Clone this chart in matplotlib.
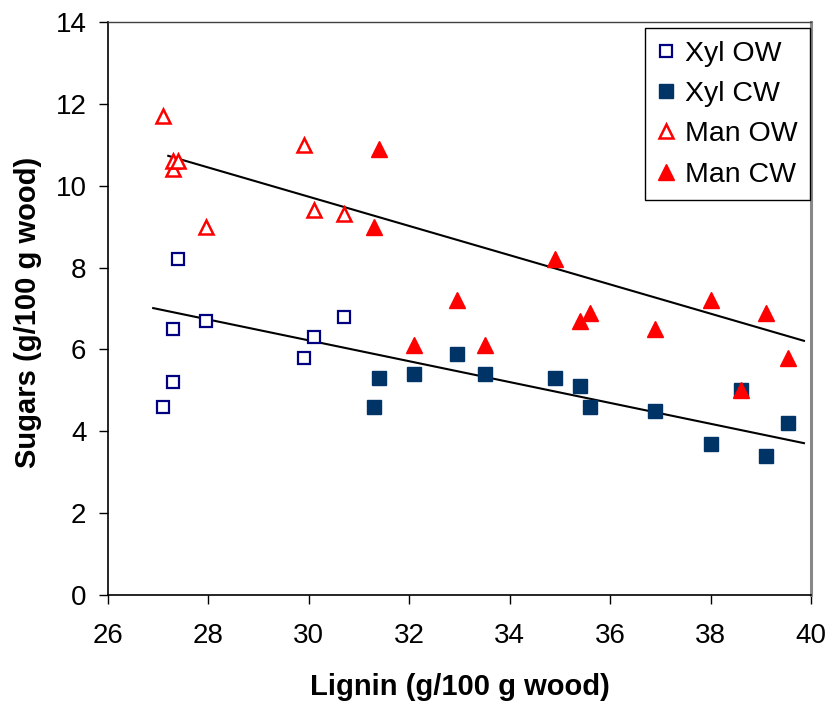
import numpy as np
import matplotlib
matplotlib.use("Agg")
import matplotlib.pyplot as plt

plt.rcParams['font.family'] = ['Liberation Sans', 'DejaVu Sans']

# Lignin content (g/100 g wood) and sugar yields (g/100 g wood)
xyl_ow_x = [27.1, 27.3, 27.3, 27.4, 27.95, 29.9, 30.1, 30.7]
xyl_ow_y = [4.6, 5.2, 6.5, 8.2, 6.7, 5.8, 6.3, 6.8]

xyl_cw_x = [31.3, 31.4, 32.1, 32.95, 33.5, 34.9, 35.4, 35.6, 36.9, 38.0, 38.6, 39.1, 39.55]
xyl_cw_y = [4.6, 5.3, 5.4, 5.9, 5.4, 5.3, 5.1, 4.6, 4.5, 3.7, 5.0, 3.4, 4.2]

man_ow_x = [27.1, 27.3, 27.3, 27.4, 27.95, 29.9, 30.1, 30.7]
man_ow_y = [11.7, 10.4, 10.6, 10.6, 9.0, 11.0, 9.4, 9.3]

man_cw_x = [31.3, 31.4, 32.1, 32.95, 33.5, 34.9, 35.4, 35.6, 36.9, 38.0, 38.6, 39.1, 39.55]
man_cw_y = [9.0, 10.9, 6.1, 7.2, 6.1, 8.2, 6.7, 6.9, 6.5, 7.2, 5.0, 6.9, 5.8]

# Linear trend lines (end points)
xyl_trend_x = [26.9, 39.86]
xyl_trend_y = [7.01, 3.71]
man_trend_x = [27.2, 39.86]
man_trend_y = [10.73, 6.21]

x_ticks = [26, 28, 30, 32, 34, 36, 38, 40]
y_ticks = [0, 2, 4, 6, 8, 10, 12, 14]

W, H = 832, 703
fig = plt.figure(figsize=(W / 100, H / 100), dpi=100)
ax = fig.add_axes([108 / W, 1 - 595 / H, (811 - 108) / W, (595 - 22) / H])

ax.plot(xyl_ow_x, xyl_ow_y, linestyle='none', marker='s', markersize=9,
        markerfacecolor='white', markeredgecolor='#000080', markeredgewidth=1.6,
        label='Xyl OW', zorder=3)
ax.plot(xyl_cw_x, xyl_cw_y, linestyle='none', marker='s', markersize=9.5,
        markerfacecolor='#003366', markeredgecolor='#003366', markeredgewidth=1.0,
        label='Xyl CW', zorder=3)
ax.plot(man_ow_x, man_ow_y, linestyle='none', marker='^', markersize=10.5,
        markerfacecolor='white', markeredgecolor='#FF0000', markeredgewidth=1.8,
        label='Man OW', zorder=3)
ax.plot(man_cw_x, man_cw_y, linestyle='none', marker='^', markersize=11.5,
        markerfacecolor='#FF0000', markeredgecolor='#FF0000', markeredgewidth=1.0,
        label='Man CW', zorder=3)

ax.plot(xyl_trend_x, xyl_trend_y, color='black', linewidth=1.5, zorder=2)
ax.plot(man_trend_x, man_trend_y, color='black', linewidth=1.5, zorder=2)

ax.set_xlim(26, 40)
ax.set_ylim(0, 14)
ax.set_xticks(x_ticks)
ax.set_yticks(y_ticks)
ax.tick_params(axis='both', direction='out', length=6.5, width=1.0, labelsize=20)
ax.tick_params(axis='y', pad=9)
ax.tick_params(axis='x', pad=14)

for side in ['left', 'bottom']:
    ax.spines[side].set_color('black')
    ax.spines[side].set_linewidth(1.2)
ax.spines['top'].set_color('#404040')
ax.spines['top'].set_linewidth(1.0)
ax.spines['right'].set_color('#888888')
ax.spines['right'].set_linewidth(2.2)

fig.text(460 / W, 1 - 695 / H, 'Lignin (g/100 g wood)', fontsize=21,
         fontweight='bold', ha='center', va='baseline')
fig.text(28 / W, 1 - 312 / H, 'Sugars (g/100 g wood)', fontsize=21,
         fontweight='bold', ha='center', va='center', rotation=90)

leg = ax.legend(loc='upper right', bbox_to_anchor=(810 / W, 1 - 28 / H),
                bbox_transform=fig.transFigure, fontsize=20.5, frameon=True,
                fancybox=False, edgecolor='black', framealpha=1, markerscale=1.0,
                handlelength=0.6, handletextpad=0.35, borderpad=0.45,
                labelspacing=0.5, borderaxespad=0.0)
leg.get_frame().set_linewidth(1.0)

fig.savefig('out.png', dpi=100)
